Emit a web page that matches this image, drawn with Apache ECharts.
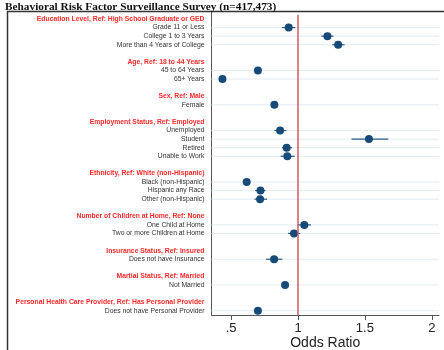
<!DOCTYPE html>
<html>
<head>
<meta charset="utf-8">
<script src="https://cdn.jsdelivr.net/npm/echarts@6/dist/echarts.min.js"></script>
<style>html,body{margin:0;padding:0;background:#fff;}#c{width:444px;height:350px;}</style>
</head>
<body>
<div id="c"></div>
<script>
const titleText = 'Behavioral Risk Factor Surveillance Survey (n=417,473)';
const groupHeaders = [
  'Education Level, Ref: High School Graduate or GED',
  'Age, Ref: 18 to 44 Years',
  'Sex, Ref: Male',
  'Employment Status, Ref: Employed',
  'Ethnicity, Ref: White (non-Hispanic)',
  'Number of Children at Home, Ref: None',
  'Insurance Status, Ref: Insured',
  'Martial Status, Ref: Married',
  'Personal Health Care Provider, Ref: Has Personal Provider'
];
const groupItems = [
  ['Grade 11 or Less', 'College 1 to 3 Years', 'More than 4 Years of College'],
  ['45 to 64 Years', '65+ Years'],
  ['Female'],
  ['Unemployed', 'Student', 'Retired', 'Unable to Work'],
  ['Black (non-Hispanic)', 'Hispanic any Race', 'Other (non-Hispanic)'],
  ['One Child at Home', 'Two or more Children at Home'],
  ['Does not have Insurance'],
  ['Not Married'],
  ['Does not have Personal Provider']
];
const oddsRatio = [0.93, 1.22, 1.30, 0.70, 0.435, 0.823, 0.866, 1.53, 0.915, 0.92, 0.616, 0.719, 0.716, 1.047, 0.97, 0.821, 0.903, 0.70];
const ciLow     = [0.88, 1.175, 1.256, 0.68, 0.42, 0.81, 0.823, 1.40, 0.88, 0.87, 0.60, 0.68, 0.674, 0.997, 0.925, 0.761, 0.885, 0.685];
const ciHigh    = [0.98, 1.265, 1.348, 0.72, 0.45, 0.836, 0.913, 1.675, 0.955, 0.975, 0.633, 0.756, 0.769, 1.097, 1.017, 0.883, 0.921, 0.716];
const xTickValues = [0.5, 1, 1.5, 2];
const xTickLabels = ['.5', '1', '1.5', '2'];

// build rows
const categories = [];
const itemRow = [];
groupHeaders.forEach((h, gi) => {
  if (gi > 0) categories.push(' '.repeat(gi));
  categories.push(h);
  groupItems[gi].forEach(it => { itemRow.push(categories.length); categories.push(it); });
});

const dotColor = '#164a78';
const scatterData = oddsRatio.map((v, i) => [v, itemRow[i]]);
const ciData = oddsRatio.map((v, i) => [ciLow[i], ciHigh[i], itemRow[i]]);
const gridData = itemRow.map(r => [1, r]);

const chart = echarts.init(document.getElementById('c'), null, {renderer: 'canvas'});
chart.setOption({
  animation: false,
  backgroundColor: '#fff',
  title: {
    text: titleText, left: 0, top: -3,
    textStyle: {fontFamily: 'Liberation Serif', fontWeight: 'bold', fontSize: 11.3, color: '#111'}
  },
  graphic: [{
    type: 'rect', shape: {x: 7.5, y: 11.5, width: 500, height: 400},
    style: {fill: null, stroke: '#333', lineWidth: 1.5}, z: 0, silent: true
  }, {
    type: 'line', shape: {x1: 211.5, y1: 12, x2: 211.5, y2: 15},
    style: {stroke: '#555', lineWidth: 1}, z: 0, silent: true
  }],
  grid: {left: 211.5, right: 5, top: 14.7, bottom: 35, containLabel: false, outerBoundsMode: 'none'},
  xAxis: {
    type: 'value', min: 0.353, max: 2.054,
    name: 'Odds Ratio', nameLocation: 'middle', nameGap: 21, nameMoveOverlap: false,
    nameTextStyle: {fontFamily: 'Liberation Sans', fontSize: 14, color: '#222'},
    axisLine: {show: true, lineStyle: {color: '#555', width: 1}},
    axisTick: {show: true, length: 5, lineStyle: {color: '#555'}, customValues: xTickValues},
    axisLabel: {fontFamily: 'Liberation Sans', fontSize: 13, color: '#222', margin: 7,
      customValues: xTickValues,
      formatter: v => xTickLabels[xTickValues.indexOf(v)] ?? ''},
    splitLine: {show: false}
  },
  yAxis: {
    type: 'category', inverse: true, data: categories,
    axisLine: {show: true, lineStyle: {color: '#555', width: 1}},
    axisTick: {show: false},
    splitLine: {show: false},
    axisLabel: {
      interval: 0, margin: 7, fontFamily: 'Liberation Sans', fontSize: 6.8, color: '#333',
      formatter: v => groupHeaders.includes(v) ? '{h|' + v + '}' : v,
      rich: {h: {fontFamily: 'Liberation Sans', fontSize: 6.8, fontWeight: 'bold', color: '#ff2a2a'}}
    }
  },
  series: [
    {
      type: 'custom', z: 1, silent: true, data: gridData,
      encode: {x: 0, y: 1},
      renderItem: (params, api) => {
        const cs = params.coordSys;
        const y = api.coord([1, api.value(1)])[1];
        return {type: 'line', shape: {x1: cs.x, y1: y, x2: cs.x + cs.width, y2: y},
          style: {stroke: '#e3ecf0', lineWidth: 1}};
      }
    },
    {
      type: 'line', data: [], z: 2,
      markLine: {silent: true, symbol: 'none', label: {show: false},
        lineStyle: {color: '#d05c66', width: 1.5, type: 'solid'},
        data: [{xAxis: 1}]}
    },
    {
      type: 'custom', z: 3, silent: true, data: ciData,
      encode: {x: [0, 1], y: 2},
      renderItem: (params, api) => {
        const p1 = api.coord([api.value(0), api.value(2)]);
        const p2 = api.coord([api.value(1), api.value(2)]);
        return {type: 'line', shape: {x1: p1[0], y1: p1[1], x2: p2[0], y2: p2[1]},
          style: {stroke: '#2a5a88', lineWidth: 1.2}};
      }
    },
    {
      type: 'scatter', z: 4, data: scatterData, symbol: 'circle', symbolSize: 8,
      itemStyle: {color: dotColor, opacity: 1}
    }
  ]
});
</script>
</body>
</html>
